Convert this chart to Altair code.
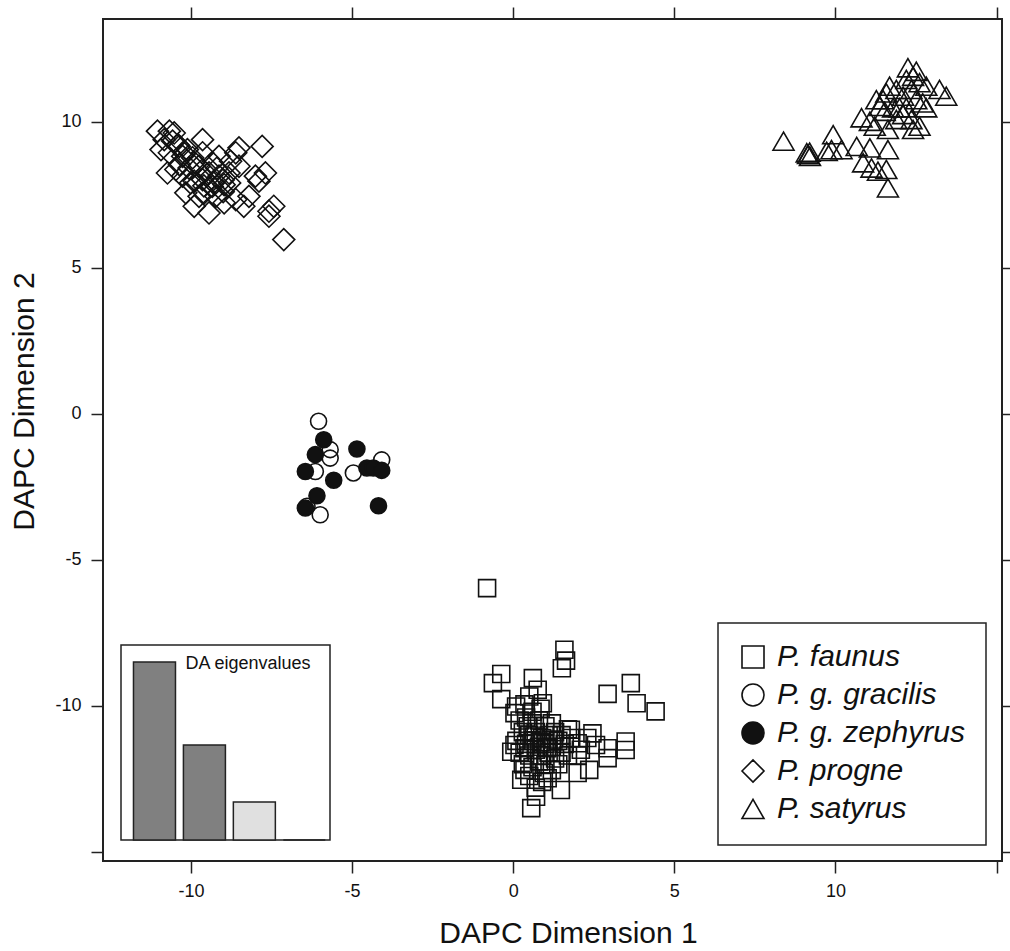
import altair as alt
import pandas as pd

FONT = "Liberation Sans"

species_names = ["P. faunus", "P. g. gracilis", "P. g. zephyrus", "P. progne", "P. satyrus"]

faunus = [
    (-0.81, -5.97), (1.59, -8.08), (1.64, -8.45), (1.51, -8.71), (-0.37, -8.91), (-0.63, -9.22),
    (0.61, -9.05), (3.65, -9.22), (2.93, -9.59), (3.83, -9.91), (4.42, -10.19), (-0.37, -9.77),
    (0.76, -9.45), (0.50, -9.68), (0.92, -9.91), (0.09, -10.02), (0.04, -10.25),
    (1.79, -10.82), (2.46, -10.94), (2.00, -11.28), (2.57, -11.34), (2.93, -11.45), (3.49, -11.22),
    (3.49, -11.51), (2.93, -11.79), (2.36, -12.19), (2.00, -12.30), (1.48, -12.88), (1.07, -12.48),
    (0.56, -13.50), (0.71, -13.11), (0.25, -12.53), (0.04, -11.34), (-0.06, -11.57), (0.35, -12.19),
    (0.2, -10.5), (0.4, -10.4), (0.6, -10.6), (0.8, -10.5), (1.0, -10.7), (1.2, -10.6),
    (0.3, -10.9), (0.5, -11.0), (0.7, -10.9), (0.9, -11.1), (1.1, -11.0), (1.3, -10.9), (1.5, -11.0),
    (0.1, -11.2), (0.4, -11.3), (0.6, -11.2), (0.8, -11.4), (1.0, -11.3), (1.2, -11.4), (1.4, -11.2),
    (1.6, -11.3), (1.8, -11.1), (0.2, -11.6), (0.5, -11.7), (0.7, -11.5), (0.9, -11.7), (1.1, -11.6),
    (1.3, -11.8), (1.5, -11.6), (1.7, -11.7), (2.1, -11.5), (2.3, -11.1), (0.3, -12.0), (0.6, -12.1),
    (0.8, -11.9), (1.0, -12.0), (1.2, -12.2), (0.5, -12.4), (0.9, -12.6), (0.7, -12.8), (1.4, -12.0),
    (0.85, -11.25), (0.65, -11.05), (1.05, -11.45), (0.45, -10.7), (1.7, -10.8), (2.0, -11.7),
    (0.95, -12.3), (0.35, -11.45), (1.25, -11.15), (0.35, -9.95), (0.6, -10.2), (0.85, -10.1),
]

gracilis = [
    (-6.04, -0.26), (-5.68, -1.23), (-5.68, -1.52), (-6.14, -1.98), (-4.96, -2.03),
    (-4.08, -1.58), (-6.40, -3.17), (-5.99, -3.46),
]

zephyrus = [
    (-5.88, -0.89), (-6.14, -1.40), (-4.85, -1.21), (-6.45, -1.98), (-5.57, -2.28), (-4.54, -1.86),
    (-4.34, -1.86), (-4.08, -1.94), (-6.09, -2.81), (-6.45, -3.23), (-4.18, -3.15),
]

progne = [
    (-11.04, 9.67), (-10.67, 9.67), (-10.52, 9.61), (-10.93, 9.04), (-10.83, 9.38), (-10.57, 9.33),
    (-10.36, 9.15), (-10.11, 9.04), (-9.64, 9.38), (-9.64, 8.93), (-10.26, 8.81), (-9.95, 8.76),
    (-10.73, 8.24), (-10.36, 8.53), (-10.06, 8.41), (-9.75, 8.47), (-9.34, 8.59), (-9.13, 8.81),
    (-8.61, 8.93), (-8.51, 9.10), (-8.77, 8.64), (-7.79, 9.15), (-10.26, 8.13), (-9.90, 7.96),
    (-9.64, 8.01), (-9.44, 8.24), (-9.13, 8.13), (-8.82, 8.24), (-8.51, 8.47), (-9.34, 7.78),
    (-8.97, 7.84), (-9.59, 7.56), (-9.23, 7.44), (-9.90, 7.10), (-9.44, 6.87), (-8.97, 7.22),
    (-8.61, 7.33), (-8.36, 7.10), (-8.20, 7.44), (-8.00, 8.13), (-7.69, 8.24), (-7.89, 7.96),
    (-7.58, 6.93), (-7.43, 7.10), (-7.58, 6.76), (-7.12, 5.96), (-10.01, 7.90), (-10.47, 8.36),
    (-10.67, 8.93), (-10.16, 7.56), (-9.75, 7.44),
    (-9.5, 8.2), (-9.3, 7.9), (-9.0, 8.0), (-9.6, 7.8), (-9.2, 8.4), (-9.9, 8.6), (-10.2, 8.9),
    (-10.4, 9.2), (-9.0, 7.6), (-8.8, 7.9),
]

satyrus = [
    (8.39, 9.33), (9.11, 8.93), (9.21, 8.81), (9.93, 9.55), (9.88, 9.04), (10.19, 9.04), (9.73, 8.98),
    (10.66, 9.15), (11.07, 9.10), (11.63, 9.04), (10.86, 8.59), (11.12, 8.41), (11.32, 8.30),
    (11.58, 8.36), (11.63, 7.73), (10.81, 10.13), (11.07, 10.01), (11.22, 9.84), (11.63, 9.73),
    (12.41, 9.73), (12.61, 9.84), (11.38, 10.52), (11.48, 10.75), (11.68, 11.21), (11.58, 10.98),
    (11.89, 11.10), (12.10, 10.87), (12.20, 11.44), (12.25, 11.84), (12.51, 11.72), (12.36, 11.10),
    (12.51, 10.75), (12.71, 10.64), (12.82, 10.47), (11.99, 10.47), (12.20, 10.47), (11.79, 10.47),
    (11.53, 10.35), (13.23, 11.10), (13.44, 10.87), (12.36, 10.07), (11.89, 10.07), (12.10, 10.24),
    (11.27, 10.75), (12.61, 11.33), (12.82, 11.21), (12.41, 11.55), (9.15, 8.88), (9.20, 8.95),
]

# DA eigenvalue inset (relative to the first eigenvalue)
eig_axis = [1, 2, 3, 4]
eig_values = [100.0, 53.4, 21.3, 0.0]
eig_retained = ["yes", "yes", "no", "no"]

x_ticks = [-10, -5, 0, 5, 10, 15]
y_ticks = [-15, -10, -5, 0, 5, 10]

species_points = [faunus, gracilis, zephyrus, progne, satyrus]

# ---------------- styles ----------------
shape_range = ["square", "circle", "circle", "diamond", "triangle-up"]
fill_range = ["transparent", "transparent", "#111111", "transparent", "transparent"]
marker_size = [289, 256, 256, 484, 441]

# ---------------- build tables ----------------
eig_df = pd.DataFrame({"axis": eig_axis, "eigenvalue": eig_values, "retained": eig_retained})
one = pd.DataFrame({"k": [0]})

# ---------------- layout ----------------
W, H = 899, 842
XDOM = [-12.73, 15.17]
YDOM = [-15.31, 13.51]

BAR_C0, BAR_STEP, BAR_W = 47, 50.5, 42
BASE_FROM_BOTTOM, TOP_BAR_PX = 21, 178
ix_dom = [1 - BAR_C0 / BAR_STEP, 1 + (W - BAR_C0) / BAR_STEP]
unit = TOP_BAR_PX / max(eig_values)
iy_dom = [-BASE_FROM_BOTTOM / unit, (H - BASE_FROM_BOTTOM) / unit]

xscale = alt.Scale(domain=XDOM, nice=False, zero=False)
yscale = alt.Scale(domain=YDOM, nice=False, zero=False)

label_x = "datum.value == 15 ? '' : toString(datum.value)"
label_y = "datum.value == -15 ? '' : toString(datum.value)"

legend = alt.Legend(
    orient="none", legendX=635, legendY=623, title=None, padding=0,
    labelFont=FONT, labelFontSize=30, labelFontStyle="italic", labelColor="#111111",
    labelOffset=9, rowPadding=8, symbolSize=484,
    symbolFillColor=alt.ExprRef("scale('fill', datum.value)"),
    symbolStrokeColor="#111111", symbolStrokeWidth=1.6, symbolOpacity=1, labelLimit=400,
)

x_enc = alt.X("dim1:Q", scale=xscale, axis=alt.Axis(
    orient="bottom", values=x_ticks, labelExpr=label_x, title="DAPC Dimension 1",
    titleX=465, titleY=81, titleBaseline="alphabetic", titleAlign="center",
    labelPadding=9))
y_enc = alt.Y("dim2:Q", scale=yscale, axis=alt.Axis(
    orient="left", values=y_ticks, labelExpr=label_y, title="DAPC Dimension 2",
    titleX=-70, titleY=382, titleBaseline="alphabetic", titleAlign="center", titleAngle=270,
    labelPadding=10))
shape_enc = alt.Shape("species:N", scale=alt.Scale(domain=species_names, range=shape_range),
                      legend=legend)
fill_enc = alt.Fill("species:N", scale=alt.Scale(domain=species_names, range=fill_range),
                    legend=None)

point_layers = []
for name, pts, msize in zip(species_names, species_points, marker_size):
    sdf = pd.DataFrame({"dim1": [p[0] for p in pts], "dim2": [p[1] for p in pts],
                        "species": [name] * len(pts)})
    point_layers.append(
        alt.Chart(sdf).mark_point(opacity=1, stroke="#111111", strokeWidth=1.6, size=msize)
        .encode(x=x_enc, y=y_enc, shape=shape_enc, fill=fill_enc)
    )
points = alt.layer(*point_layers)

frame_df = pd.DataFrame({"dim1": XDOM, "dim2": YDOM})
frame_axes = alt.Chart(frame_df).mark_point(opacity=0).encode(
    x=alt.X("dim1:Q", scale=xscale, axis=alt.Axis(
        orient="top", values=x_ticks, labels=False, title=None)),
    y=alt.Y("dim2:Q", scale=yscale, axis=alt.Axis(
        orient="right", values=y_ticks, labels=False, title=None)),
)

inset_box = alt.Chart(one).mark_rect(fill="white", stroke="#222222", strokeWidth=1.5).encode(
    x=alt.value(18), x2=alt.value(227), y=alt.value(626), y2=alt.value(821)
)

bars = alt.Chart(eig_df).mark_bar(size=BAR_W, stroke="#222222", strokeWidth=1.5).encode(
    x=alt.X("axis:Q", scale=alt.Scale(domain=ix_dom, nice=False, zero=False), axis=None),
    y=alt.Y("eigenvalue:Q", scale=alt.Scale(domain=iy_dom, nice=False, zero=False), axis=None),
    y2=alt.datum(0),
    fill=alt.condition(alt.datum.retained == "yes", alt.value("#808080"), alt.value("#e0e0e0")),
)

inset_title = alt.Chart(one).mark_text(
    text="DA eigenvalues", font=FONT, fontSize=18, color="#111111",
    align="center", baseline="alphabetic"
).encode(x=alt.value(145), y=alt.value(650))

legend_box = alt.Chart(one).mark_rect(fill="white", stroke="#222222", strokeWidth=1.5).encode(
    x=alt.value(615), x2=alt.value(883), y=alt.value(604), y2=alt.value(826)
)

chart = alt.layer(
    legend_box, inset_box, bars, inset_title, frame_axes, points
).resolve_scale(
    x="independent", y="independent"
).properties(
    width=W, height=H,
    autosize=alt.AutoSizeParams(type="none"),
    padding={"left": 103, "top": 19, "right": 8, "bottom": 90},
    background="white",
).configure_view(
    stroke="#222222", strokeWidth=2
).configure_axis(
    domain=False, grid=False, ticks=True, tickSize=12, tickWidth=1.5, tickColor="#222222",
    labelFont=FONT, labelFontSize=18, labelColor="#111111",
    titleFont=FONT, titleFontSize=30, titleFontWeight="normal", titleColor="#111111",
)

chart.save("out.html", embed_options={"renderer": "svg", "actions": False})
